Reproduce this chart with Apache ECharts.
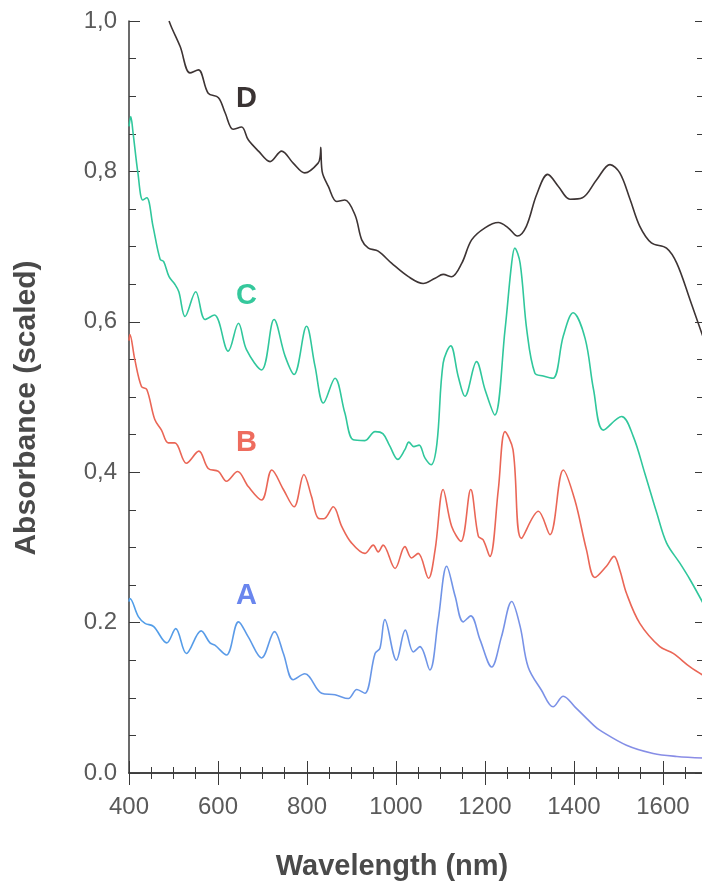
<!DOCTYPE html>
<html>
<head>
<meta charset="utf-8">
<script src="https://cdn.jsdelivr.net/npm/echarts@6/dist/echarts.min.js"></script>
<style>
  html, body { margin: 0; padding: 0; background: #fff; overflow: hidden; }
  #chart { width: 703px; height: 886px; }
</style>
</head>
<body>
<div id="chart"></div>
<script>
// values (wavelength in nm, absorbance scaled)
const yTickLabels = ['0.0', '0.2', '0,4', '0,6', '0,8', '1,0'];

const wlD = [490, 496, 515, 537, 556, 578, 601, 616, 634, 653, 668, 691, 717, 743, 769, 795, 825, 830, 831, 834, 848, 867, 885, 908, 923, 938, 960, 990, 1028, 1061, 1088, 1106, 1125, 1148, 1170, 1200, 1230, 1252, 1273, 1293, 1316, 1341, 1365, 1391, 1419, 1451, 1481, 1503, 1526, 1548, 1574, 1608, 1631, 1661, 1690];
const absD = [1.0, 0.991, 0.966, 0.931, 0.935, 0.904, 0.898, 0.878, 0.856, 0.859, 0.842, 0.827, 0.813, 0.827, 0.811, 0.798, 0.811, 0.822, 0.832, 0.800, 0.780, 0.760, 0.762, 0.742, 0.709, 0.698, 0.694, 0.678, 0.660, 0.651, 0.658, 0.663, 0.660, 0.678, 0.709, 0.725, 0.732, 0.725, 0.714, 0.727, 0.769, 0.796, 0.780, 0.763, 0.765, 0.789, 0.809, 0.798, 0.763, 0.727, 0.705, 0.698, 0.678, 0.629, 0.580];

const wlC = [400, 404, 409, 420, 431, 440, 454, 470, 478, 490, 503, 512, 526, 550, 571, 592, 623, 646, 664, 698, 726, 751, 771, 799, 818, 837, 863, 885, 904, 930, 953, 971, 986, 1004, 1020, 1029, 1040, 1052, 1065, 1079, 1092, 1106, 1123, 1140, 1155, 1181, 1200, 1222, 1245, 1260, 1267, 1279, 1294, 1312, 1331, 1353, 1376, 1398, 1425, 1444, 1466, 1507, 1533, 1559, 1586, 1608, 1638, 1661, 1690];
const absC = [0.86, 0.873, 0.852, 0.798, 0.762, 0.765, 0.727, 0.683, 0.680, 0.660, 0.650, 0.640, 0.607, 0.640, 0.603, 0.609, 0.561, 0.598, 0.563, 0.536, 0.603, 0.554, 0.530, 0.594, 0.541, 0.492, 0.525, 0.479, 0.443, 0.442, 0.454, 0.451, 0.435, 0.417, 0.430, 0.440, 0.434, 0.436, 0.419, 0.410, 0.438, 0.545, 0.568, 0.527, 0.501, 0.547, 0.510, 0.476, 0.589, 0.678, 0.698, 0.678, 0.589, 0.532, 0.528, 0.525, 0.581, 0.612, 0.578, 0.510, 0.456, 0.474, 0.448, 0.399, 0.346, 0.306, 0.279, 0.257, 0.226];

const wlB = [400, 402, 413, 428, 440, 458, 473, 488, 503, 529, 557, 578, 601, 619, 644, 668, 698, 721, 747, 771, 793, 810, 825, 838, 859, 878, 900, 930, 949, 960, 971, 998, 1020, 1035, 1050, 1073, 1088, 1106, 1125, 1146, 1168, 1185, 1196, 1211, 1230, 1245, 1263, 1282, 1320, 1346, 1376, 1402, 1428, 1447, 1473, 1490, 1503, 1518, 1548, 1593, 1623, 1661, 1690];
const absB = [0.575, 0.583, 0.550, 0.514, 0.510, 0.470, 0.456, 0.439, 0.439, 0.412, 0.428, 0.405, 0.401, 0.388, 0.401, 0.381, 0.363, 0.403, 0.377, 0.354, 0.397, 0.368, 0.339, 0.338, 0.354, 0.328, 0.306, 0.292, 0.303, 0.294, 0.303, 0.272, 0.301, 0.286, 0.292, 0.259, 0.297, 0.377, 0.328, 0.308, 0.377, 0.315, 0.310, 0.288, 0.377, 0.454, 0.430, 0.312, 0.348, 0.317, 0.403, 0.363, 0.297, 0.260, 0.275, 0.288, 0.270, 0.239, 0.199, 0.168, 0.159, 0.141, 0.130];

const wlA = [400, 402, 421, 436, 455, 485, 505, 529, 562, 582, 593, 619, 646, 668, 698, 727, 747, 769, 795, 833, 863, 893, 912, 930, 953, 964, 975, 1001, 1021, 1039, 1054, 1076, 1095, 1114, 1133, 1151, 1168, 1189, 1215, 1237, 1260, 1279, 1297, 1327, 1353, 1376, 1402, 1447, 1458, 1518, 1578, 1631, 1690];
const absA = [0.228, 0.232, 0.208, 0.199, 0.195, 0.173, 0.192, 0.159, 0.189, 0.173, 0.170, 0.157, 0.201, 0.181, 0.153, 0.188, 0.159, 0.124, 0.132, 0.106, 0.104, 0.099, 0.111, 0.106, 0.159, 0.166, 0.204, 0.150, 0.190, 0.161, 0.168, 0.137, 0.204, 0.275, 0.235, 0.201, 0.209, 0.177, 0.141, 0.181, 0.228, 0.195, 0.141, 0.110, 0.088, 0.102, 0.088, 0.062, 0.057, 0.037, 0.026, 0.022, 0.020];

const curveNames = ['A', 'B', 'C', 'D'];
const labelWl = [664, 664, 664, 664];
const labelAbs = [0.235, 0.439, 0.634, 0.896];

const zip = (xs, ys) => xs.map((x, i) => [x, ys[i]]);

const chart = echarts.init(document.getElementById('chart'));

const axisCol = '#3a3a3a';
const labelCol = '#5a5a5a';
const font = 'Liberation Sans, Arial, sans-serif';

function curve(idx, xs, ys, color, textColor) {
  const name = curveNames[idx];
  return {
    name: name,
    type: 'line',
    data: zip(xs, ys),
    showSymbol: false,
    smooth: 0.35,
    lineStyle: { color: color, width: 1.6 },
    markPoint: {
      symbol: 'rect',
      symbolSize: 1,
      itemStyle: { color: 'rgba(0,0,0,0)' },
      label: {
        show: true,
        position: 'inside',
        formatter: name,
        color: textColor,
        fontSize: 29,
        fontWeight: 'bold',
        fontFamily: font
      },
      data: [{ coord: [labelWl[idx], labelAbs[idx]] }]
    }
  };
}

chart.setOption({
  animation: false,
  backgroundColor: '#fff',
  grid: { left: 129, top: 21, width: 574, height: 752 },
  xAxis: [
    {
      type: 'value', min: 400, max: 1690, interval: 200,
      axisLine: { lineStyle: { color: axisCol, width: 1.5 } },
      axisTick: { inside: true, length: 12, lineStyle: { color: axisCol } },
      minorTick: { show: true, splitNumber: 4, length: 6, lineStyle: { color: axisCol } },
      splitLine: { show: false },
      axisLabel: {
        margin: 22, fontSize: 24, color: labelCol, showMaxLabel: false,
        fontFamily: font, formatter: v => String(v)
      }
    },
    {
      type: 'value', position: 'top', min: 400, max: 1690, interval: 200,
      axisLine: { lineStyle: { color: axisCol, width: 1.5 } },
      axisTick: { inside: true, length: 12, lineStyle: { color: axisCol } },
      minorTick: { show: true, splitNumber: 4, length: 6, lineStyle: { color: axisCol } },
      splitLine: { show: false },
      axisLabel: { show: false }
    }
  ],
  yAxis: [
    {
      type: 'value', min: 0, max: 1, interval: 0.2,
      axisLine: { show: true, lineStyle: { color: axisCol, width: 1.5 } },
      axisTick: { show: true, inside: true, length: 11, lineStyle: { color: axisCol } },
      minorTick: { show: true, splitNumber: 4, length: 7, lineStyle: { color: axisCol } },
      splitLine: { show: false },
      axisLabel: {
        margin: 12, fontSize: 24, color: labelCol, fontFamily: font,
        formatter: v => yTickLabels[Math.round(v / 0.2)]
      }
    },
    {
      type: 'value', position: 'right', min: 0, max: 1, interval: 0.2,
      axisLine: { show: true, lineStyle: { color: axisCol, width: 1.5 } },
      axisTick: { show: true, inside: true, length: 8, lineStyle: { color: axisCol } },
      minorTick: { show: true, splitNumber: 4, length: 6, lineStyle: { color: axisCol } },
      splitLine: { show: false },
      axisLabel: { show: false }
    }
  ],
  graphic: [
    {
      type: 'text', x: 392, y: 867,
      style: {
        text: 'Wavelength (nm)', textAlign: 'center', textVerticalAlign: 'middle',
        fill: '#4a4a4a', fontSize: 29, fontWeight: 'bold', fontFamily: font
      }
    },
    {
      type: 'text', x: 27, y: 408, rotation: Math.PI / 2,
      style: {
        text: 'Absorbance (scaled)', textAlign: 'center', textVerticalAlign: 'middle',
        fill: '#4a4a4a', fontSize: 30, fontWeight: 'bold', fontFamily: font
      }
    }
  ],
  series: [
    curve(0, wlA, absA, new echarts.graphic.LinearGradient(0, 0, 1, 0, [
      { offset: 0, color: '#4f9ee8' }, { offset: 1, color: '#8c8ce6' }
    ]), '#6a86ee'),
    curve(1, wlB, absB, '#ea6656', '#ee6c5e'),
    curve(2, wlC, absC, '#30c79c', '#35c89c'),
    curve(3, wlD, absD, '#3d3434', '#3a3333')
  ]
});
</script>
</body>
</html>
